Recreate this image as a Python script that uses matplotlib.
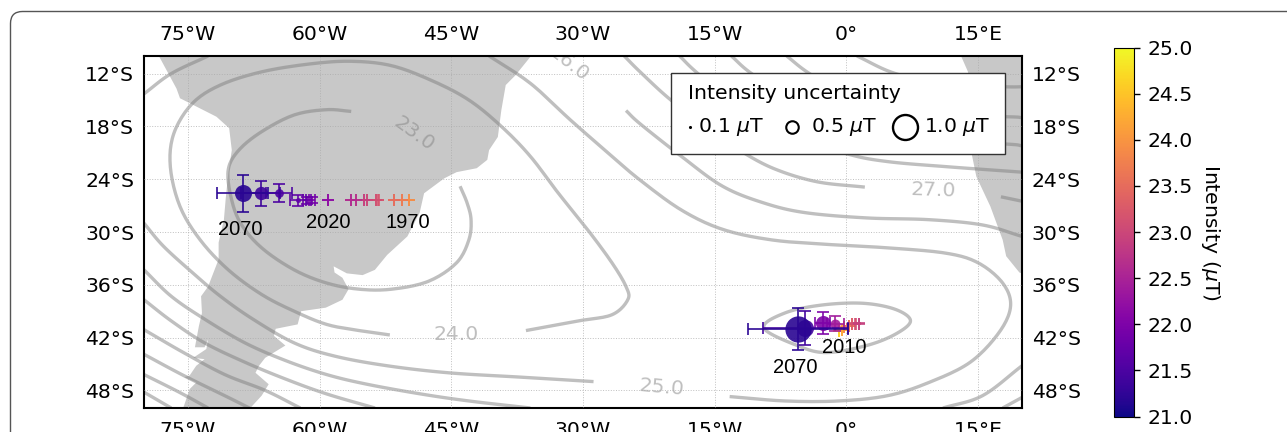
import numpy as np
import matplotlib
matplotlib.use("Agg")
import matplotlib.pyplot as plt
from matplotlib.patches import Polygon, FancyBboxPatch, Rectangle
from matplotlib.transforms import IdentityTransform
from matplotlib.cm import ScalarMappable
from matplotlib.colors import Normalize

south_america = [(-78.25,-9.5),(-78.25,-10.1),(-76.3,-13.7),(-75.9,-14.8),(-71.75,-16.9),(-70.3,-18.2),(-70,-20.7),(-70.4,-23.3),(-70.7,-26.3),(-70.9,-28.6),(-71.5,-31.2),(-71.5,-33.1),(-72.7,-36.2),(-73.5,-37.3),(-73.4,-39.2),(-73.75,-40.7),(-74.2,-43.1),(-73.1,-43.1),(-72.7,-42.2),(-72.9,-43.3),(-74.4,-44.3),(-73.1,-44.45),(-74.05,-45.2),(-74.8,-46.3),(-75.4,-46.5),(-74.05,-47.1),(-74.8,-47.85),(-75.5,-49.9),(-75.5,-50.5),(-67.8,-50.5),(-67.8,-49.9),(-66.6,-48.6),(-65.8,-47.3),(-67.3,-46),(-66.9,-45.2),(-66.2,-44.3),(-63.9,-42.9),(-65.2,-41.8),(-65,-41),(-62.5,-40.5),(-62.1,-39),(-59.3,-38.6),(-57.4,-37.7),(-56.7,-36.5),(-57.4,-35.2),(-58.3,-34.6),(-58.4,-33.9),(-56.9,-34.7),(-55.1,-34.9),(-53.7,-34.3),(-52.3,-32.6),(-50,-30.5),(-48.6,-27.8),(-48.1,-25.6),(-45.8,-23.9),(-44.4,-23.2),(-42.1,-22.75),(-40.9,-21.8),(-40.7,-20.7),(-39.7,-19.2),(-39.3,-16.15),(-38.8,-13.3),(-37.7,-12.2),(-36,-10.1),(-36,-9.5)]
africa = [(13.1,-9.5),(13.1,-10.1),(13.85,-11.8),(14.1,-15),(14.1,-20.3),(14.8,-23.7),(16.4,-27.1),(17.8,-30.9),(18.2,-32.75),(19.7,-34.6),(20.5,-34.9),(20.5,-9.5)]

contours = [
 [(-56.4,-16.3),(-59.2,-16.1),(-62.9,-16.7),(-66.6,-18.6),(-69.2,-20.7),(-70.4,-22.9),(-70.1,-26),(-69,-29),(-66.6,-31.8),(-62.9,-34.3),(-59.2,-35.8),(-55.5,-36.5),(-51.8,-36.5),(-47.6,-35.6),(-44.4,-33.5),(-43,-30.9),(-42.75,-28.6),(-43.2,-26.7),(-44,-24.8)],
 [(-52,-41.7),(-55.5,-41.2),(-59.2,-40.5),(-62.9,-39),(-66.6,-37.1),(-70.4,-34.3),(-73.6,-30.9),(-75.9,-27.1),(-77,-22.6),(-76.6,-18.8),(-74.5,-15.4),(-71.3,-13.3),(-66.6,-11.8),(-61.1,-10.9),(-56.4,-10.6),(-51.8,-11.1),(-47.2,-12.8),(-43,-15),(-39.3,-18),(-36,-21.4),(-32.8,-25.6),(-29.5,-29.7),(-26.7,-33.5),(-25.1,-36.2),(-24.9,-37.7),(-26.7,-39.4),(-30.5,-40.1),(-36.5,-41.2)],
 [(-80,-29),(-77.8,-31.6),(-74.5,-34.6),(-71.3,-37.3),(-67.6,-39.9),(-62.9,-42.6),(-58.3,-44.1),(-52.3,-45.2),(-45.3,-46),(-37,-46.5),(-28.8,-47)],
 [(-13.3,-48.7),(-7,-49.2),(-0.9,-49.2),(4.7,-48.6),(9.4,-47.1),(14.1,-44.8),(17.4,-41.4),(18.7,-38.4),(17.8,-35.8),(15,-33.5),(11.3,-32.4),(4.7,-31.8),(-2.3,-31.4),(-8.5,-30.9),(-14.1,-29.7),(-18.8,-27.5),(-23.5,-24.1),(-26.7,-21.4),(-31.4,-17.3),(-36,-13.1),(-40.7,-10)],
 [(-25.1,-16.2),(-23.5,-17.7),(-18.8,-21.4),(-14.1,-24.8),(-9.4,-26.7),(-4.7,-27.8),(2.3,-28.4),(9.4,-28.6),(15.5,-29.2),(20,-30.5)],
 [(-25.3,-10),(-23.5,-11.8),(-20,-15),(-15.5,-18.4),(-11.7,-21),(-8,-22.9),(-3.3,-24.3),(2.1,-24.9)],
 [(17.6,-26),(20,-26.5)],
 [(-19,-10),(-16.9,-12),(-11.7,-16.2),(-7,-18.8),(0,-21.1),(4.7,-22),(11.7,-22.6),(20,-23.2)],
 [(-13.1,-10),(-10.8,-12),(-5.6,-15.4),(0,-18),(7.5,-19.5),(18.1,-20),(20,-20.2)],
 [(-6.8,-10),(-4.2,-12),(0.9,-15),(7,-16.7),(18.1,-16.9),(20,-17)],
 [(1.2,-10),(5.6,-12),(11.7,-13.3),(18.1,-13.5),(20,-13.5)],
 [(-80,-34.3),(-76.9,-37.3),(-73.1,-39.9),(-68.5,-42.6),(-63.9,-44.6),(-59.2,-46.2),(-54.6,-47.3),(-48.5,-48.4),(-43,-49.2),(-36,-50)],
 [(-80,-37.7),(-76.9,-40.1),(-73.1,-42.6),(-68.5,-44.8),(-63.9,-46.7),(-59.2,-48.4),(-53.7,-50)],
 [(-80,-41.1),(-75.5,-43.7),(-70.8,-46.2),(-66.2,-48),(-62.2,-50)],
 [(-80,-43.9),(-75.5,-46.3),(-70.4,-48.8),(-68,-50)],
 [(-80,-46.2),(-76,-48.2),(-72.7,-50)],
 [(-80,-48.2),(-76.9,-50)],
 [(-80,-14.3),(-76.9,-12),(-72.7,-10)],
 [(11,-50),(15.5,-48.6),(20,-45.2)],
 [(17.8,-50),(20,-48.8)],
 [(-9.4,-40.9),(-7,-39.2),(-2.8,-38.3),(1.9,-38.1),(5.6,-38.8),(7.3,-40.1),(5.6,-41.6),(2.3,-42.9),(-2.3,-43.7),(-5.6,-42.9),(-9.4,-40.9)],
]
contour_labels = ["23.0","24.0","25.0","26.0","27.0"]
contour_label_lon = [-49.25,-44.4,-21.1,-31.6,9.9]
contour_label_lat = [-18.8,-41.6,-47.7,-10.9,-25.3]
contour_label_rot = [-36,0,-5,-38,-2]

sa_lon = [-49.85,-50.6,-51.55,-53.3,-53.6,-54.6,-54.9,-55.9,-56.4,-59,-60.85,-61.4,-62.45,-64.6,-66.7,-68.75]
sa_lat = [-26.4]*13 + [-25.6,-25.6,-25.6]
sa_xerr = [0.01]*10 + [0.35,0.45,0.9,1.45,2.2,2.9]
sa_yerr = [0.01]*10 + [0.35,0.4,0.6,1.0,1.45,2.1]
sa_unc = [0.02]*10 + [0.05,0.08,0.2,0.35,0.53,0.68]
sa_val = [23.9,23.7,23.5,23.2,23.1,23.0,22.9,22.7,22.6,22.2,21.9,21.8,21.7,21.5,21.35,21.2]

at_lon = [-0.87,-0.49,-0.23,0.26,0.65,1.03,1.4,-1.25,-2.7,-4.67,-5.54]
at_lat = [-41.2,-41.1,-40.85,-40.65,-40.45,-40.4,-40.4,-40.4,-40.35,-40.9,-41.03]
at_xerr = [0.01]*7 + [0.95,0.85,4.8,5.7]
at_yerr = [0.01]*7 + [0.87,1.25,1.9,2.34]
at_unc = [0.02]*7 + [0.4,0.6,0.68,1.05]
at_val = [24.6,24.2,23.9,23.6,23.3,23.1,22.9,22.4,22.0,21.4,21.2]

year_labels = ["2070","2020","1970","2010","2070"]
year_lon = [-69,-59,-49.9,-0.2,-5.8]
year_lat = [-29.67,-28.9,-28.9,-43.1,-45.4]

lon_ticks = [-75,-60,-45,-30,-15,0,15]
lon_labels = ["75°W","60°W","45°W","30°W","15°W","0°","15°E"]
lat_ticks = [-12,-18,-24,-30,-36,-42,-48]
lat_labels = ["12°S","18°S","24°S","30°S","36°S","42°S","48°S"]
cbar_ticks = [21,21.5,22,22.5,23,23.5,24,24.5,25]
legend_unc = [0.1,0.5,1.0]
legend_text = ["0.1 $\\mu$T","0.5 $\\mu$T","1.0 $\\mu$T"]

FS = 14.7
W, H = 1287, 432
fig = plt.figure(figsize=(W/100, H/100), dpi=100)
fig.add_artist(FancyBboxPatch((10.5, H-11.5-500), 1400, 500, boxstyle="round,pad=0,rounding_size=12",
                              transform=IdentityTransform(), fc="none", ec="#555555", lw=1, zorder=-1))
ax = fig.add_axes([144/W, 1-408/H, (1022-144)/W, (408-56)/H])
ax.set_xlim(-80, 20); ax.set_ylim(-50, -10)
ax.add_patch(Polygon(south_america, fc="#c8c8c8", ec="none", zorder=1))
ax.add_patch(Polygon(africa, fc="#c8c8c8", ec="none", zorder=1))
ax.set_xticks(lon_ticks, lon_labels); ax.set_yticks(lat_ticks, lat_labels)
ax.tick_params(length=0, labelsize=FS, top=False, labeltop=True, labelright=True)
ax.tick_params(axis="x", pad=9)
ax.tick_params(axis="y", pad=7)
ax.grid(True, color="#aaaaaa", ls=":", lw=0.7, alpha=0.75, zorder=1.5)
ax.set_axisbelow(False)
for s in ax.spines.values():
    s.set_linewidth(1.5)

def smooth(pts, n=12):
    # Catmull-Rom rendering of the read contour vertices
    p = np.array(pts, float)
    closed = np.allclose(p[0], p[-1])
    if closed:
        q = np.vstack([p[-2], p, p[1]])
    else:
        q = np.vstack([2*p[0]-p[1], p, 2*p[-1]-p[-2]])
    out = []
    t = np.linspace(0, 1, n, endpoint=False)[:, None]
    for i in range(1, len(q)-2):
        a, b, c, d = q[i-1], q[i], q[i+1], q[i+2]
        out.append(0.5*(2*b+(c-a)*t+(2*a-5*b+4*c-d)*t**2+(3*b-a-3*c+d)*t**3))
    out.append(p[-1:])
    return np.vstack(out)

for pts in contours:
    xy = smooth(pts)
    ax.plot(xy[:,0], xy[:,1], color="gray", alpha=0.5, lw=2.4, zorder=2, solid_capstyle="butt")
for t, x, y, r in zip(contour_labels, contour_label_lon, contour_label_lat, contour_label_rot):
    ax.text(x, y, t, color="gray", alpha=0.5, fontsize=FS, rotation=r, ha="center", va="center",
            zorder=2, clip_on=True, rotation_mode="anchor")

cmap = plt.get_cmap("plasma"); norm = Normalize(21, 25)
for lon, lat, xe, ye, u, v in list(zip(sa_lon, sa_lat, sa_xerr, sa_yerr, sa_unc, sa_val)) + \
                              list(zip(at_lon, at_lat, at_xerr, at_yerr, at_unc, at_val)):
    c = cmap(norm(v))
    ax.errorbar(lon, lat, xerr=xe, yerr=ye, color=c, elinewidth=1.3, capsize=4.2, capthick=1.3, alpha=0.9, zorder=3)
    ax.scatter(lon, lat, s=(18*u)**2, color=c, alpha=0.9, linewidths=0, zorder=3)
for t, x, y in zip(year_labels, year_lon, year_lat):
    ax.text(x, y, t, fontsize=14.5, family="Liberation Sans", ha="center", va="center", zorder=4)

fig_rect = Rectangle((671/W, 1-154/H), (1005-671)/W, (154-73)/H, transform=fig.transFigure,
                     fc="white", ec="#333333", lw=1, zorder=4.9)
ax.add_patch(fig_rect)
handles = [ax.scatter([], [], s=(18*u)**2 if u > 0.1 else 5, fc="black" if u == 0.1 else "white", ec="black",
                      lw=0 if u == 0.1 else (1.5 if u < 1 else 1.7)) for u in legend_unc]
leg = ax.legend(handles, legend_text, ncol=3, title="Intensity uncertainty", fontsize=FS, title_fontsize=FS,
                loc="upper left", bbox_to_anchor=(688.5/W, 1-84/H), bbox_transform=fig.transFigure,
                borderaxespad=0, borderpad=0, frameon=False, alignment="left",
                handlelength=0.1, handletextpad=0.35, columnspacing=1.83, labelspacing=0.63)
for h in leg.legend_handles[1:]:
    h.set_offsets(h.get_offsets() + np.array([-7.3, 0]))
leg.set_zorder(5)

cax = fig.add_axes([1114/W, 1-416.5/H, 19.5/W, (416.5-47.5)/H])
cb = fig.colorbar(ScalarMappable(norm=norm, cmap=cmap), cax=cax, ticks=cbar_ticks)
cb.ax.set_yticklabels([f"{t:.1f}" for t in cbar_ticks])
cb.ax.tick_params(labelsize=FS, length=4.5, width=1, pad=5.5)
cb.set_label("Intensity ($\\mu$T)", fontsize=FS, rotation=270, labelpad=21)

fig.savefig("out.png", dpi=100)
